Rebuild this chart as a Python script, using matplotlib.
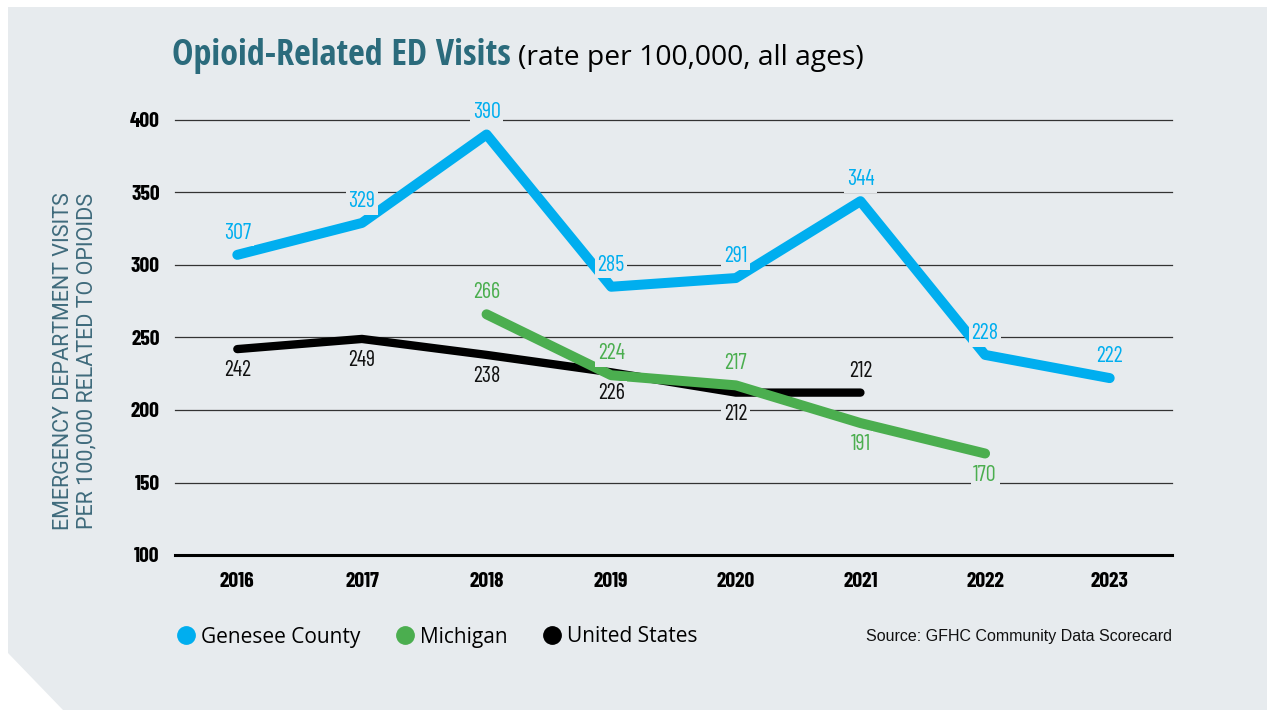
import matplotlib
matplotlib.use("Agg")
import matplotlib.pyplot as plt
from matplotlib.lines import Line2D
from matplotlib.patches import Polygon

# ---- data ----
genesee_years = [2016, 2017, 2018, 2019, 2020, 2021, 2022, 2023]
genesee_values = [307, 329, 390, 285, 291, 344, 238, 222]
# the printed labels; the 2022 point is drawn near 238 but labelled 228 in the source
genesee_labels = ["307", "329", "390", "285", "291", "344", "228", "222"]

michigan_years = [2018, 2019, 2020, 2021, 2022]
michigan_values = [266, 224, 217, 191, 170]

us_years = [2016, 2017, 2018, 2019, 2020, 2021]
us_values = [242, 249, 238, 226, 212, 212]

year_ticks = [2016, 2017, 2018, 2019, 2020, 2021, 2022, 2023]
value_ticks = [100, 150, 200, 250, 300, 350, 400]

# label above (+1) or below (-1) the point
genesee_side = [1, 1, 1, 1, 1, 1, 1, 1]
michigan_side = [1, 1, 1, -1, -1]
us_side = [-1, -1, -1, -1, -1, 1]

BG = "#E7EBEE"
BLUE = "#00AEEF"
GREEN = "#4BAE4F"
BLACK = "#000000"
TEAL = "#2B6B7C"

COND = ["Barlow Condensed", "Roboto Condensed", "DejaVu Sans"]

plt.rcParams["font.family"] = ["Open Sans", "DejaVu Sans"]

W, H = 1267, 710
fig = plt.figure(figsize=(W / 100, H / 100), dpi=100)
fig.patch.set_facecolor("white")

# grey panel with the clipped bottom-left corner
pts = [(8, 7), (W, 7), (W, H), (63, H), (8, 653)]
fig.patches.append(Polygon([(x / W, 1 - y / H) for x, y in pts], closed=True,
                           transform=fig.transFigure, facecolor=BG, edgecolor="none", zorder=-10))

ax = fig.add_axes([175 / W, 1 - 555 / H, (1172 - 175) / W, (555 - 120) / H])
ax.set_facecolor("none")
ax.set_xlim(2015.5, 2023.5)
ax.set_ylim(100, 400)

for s in ["top", "right", "left"]:
    ax.spines[s].set_visible(False)
ax.spines["bottom"].set_linewidth(2.2)
ax.spines["bottom"].set_color("black")

ax.set_yticks(value_ticks)
ax.set_xticks(year_ticks)
ax.set_yticklabels([str(v) for v in value_ticks], family=COND, weight="bold", fontsize=15.5)
ax.set_xticklabels([str(y) for y in year_ticks], family=COND, weight="bold", fontsize=15.5)
ax.tick_params(axis="y", length=0, pad=11)
ax.tick_params(axis="x", length=0, pad=12)
ax.set_axisbelow(True)
ax.grid(axis="y", color="#333333", linewidth=0.9)
ax.grid(axis="x", visible=False)
for gl in ax.get_ygridlines():
    gl.set_clip_on(False)

lkw = dict(solid_capstyle="round", solid_joinstyle="round")
ax.plot(us_years, us_values, color=BLACK, lw=6.0, zorder=2, **lkw)
ax.plot(michigan_years, michigan_values, color=GREEN, lw=7.2, zorder=3, **lkw)
ax.plot(genesee_years, genesee_values, color=BLUE, lw=7.2, zorder=4, **lkw)


def label_points(xs, ys, texts, sides, color):
    for x, y, t, s in zip(xs, ys, texts, sides):
        ax.annotate(t, (x, y), xytext=(0, 15.5 * s), textcoords="offset points",
                    ha="center", va="center", color=color, fontsize=16,
                    family=COND, weight="normal", zorder=6, annotation_clip=False,
                    bbox=dict(boxstyle="square,pad=0.12", facecolor=BG, edgecolor="none"))


label_points(genesee_years, genesee_values, genesee_labels, genesee_side, BLUE)
label_points(michigan_years, michigan_values, [str(v) for v in michigan_values], michigan_side, GREEN)
label_points(us_years, us_values, [str(v) for v in us_values], us_side, "#111111")

# y axis title
fig.text(75 / W, 1 - 361 / H, "EMERGENCY DEPARTMENT VISITS\nPER 100,000 RELATED TO OPIOIDS",
         rotation=90, ha="center", va="center", fontsize=15.5, color="#3F6B7C",
         family=["Roboto", "DejaVu Sans"], weight="normal", linespacing=1.15)

# title in two parts
t1 = fig.text(172 / W, 1 - 65 / H, "Opioid-Related ED Visits", fontsize=26,
              family=["Open Sans Condensed", "Open Sans"], weight="bold", color=TEAL,
              ha="left", va="baseline")
fig.canvas.draw()
bb = t1.get_window_extent()
fig.text((bb.x1 + 7) / W, 1 - 65 / H, "(rate per 100,000, all ages)", fontsize=20.3,
         family=["Open Sans", "DejaVu Sans"], weight="normal",
         color="black", ha="left", va="baseline")

# legend
handles = [Line2D([], [], marker="o", linestyle="none", markersize=12.5, color=c)
           for c in (BLUE, GREEN, BLACK)]
fig.legend(handles, ["Genesee County", "Michigan", "United States"],
           loc="center left", bbox_to_anchor=(178 / W, 1 - 637 / H),
           bbox_transform=fig.transFigure, ncol=3, frameon=False,
           prop=dict(family=["Open Sans", "DejaVu Sans"], size=15),
           handlelength=0.8, handletextpad=0.3, columnspacing=1.75,
           borderpad=0, borderaxespad=0)

fig.text(1172 / W, 1 - 636 / H, "Source: GFHC Community Data Scorecard",
         ha="right", va="center", fontsize=11.5,
         family=["Liberation Sans", "DejaVu Sans"], color="#111111")

fig.savefig("out.png", dpi=100, facecolor=fig.get_facecolor())
